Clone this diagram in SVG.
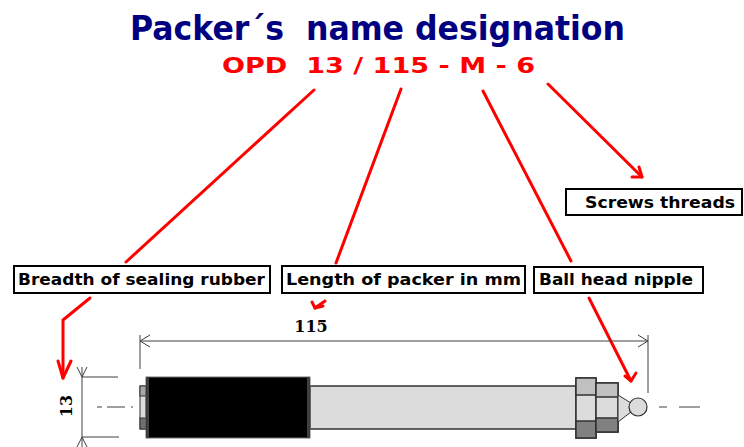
<svg xmlns="http://www.w3.org/2000/svg" width="744" height="447" viewBox="0 0 744 447">
<style>
.lbl{fill:#fff;stroke:#000;stroke-width:2}
.lt{font-family:"DejaVu Sans",Verdana,sans-serif;font-weight:bold;font-size:16px;fill:#000}
.red{stroke:#ff0000;stroke-width:3;fill:none;stroke-linecap:round;stroke-linejoin:round}
.dim{stroke:#404040;stroke-width:1;fill:none}
.part{stroke:#303030;stroke-width:1.5}
.dt{font-family:"DejaVu Serif","Liberation Serif",serif;font-weight:bold;font-size:16px;fill:#000}
</style>
<rect width="744" height="447" fill="#fff"/>
<g id="title">
<text x="130" y="40" textLength="495" lengthAdjust="spacingAndGlyphs" font-family="DejaVu Sans,Verdana,sans-serif" font-weight="bold" font-size="34" fill="#000080" xml:space="preserve">Packer´s  name designation</text>
<text x="222" y="73" textLength="313" lengthAdjust="spacingAndGlyphs" font-family="DejaVu Sans,Verdana,sans-serif" font-weight="bold" font-size="22" fill="#ff0000" xml:space="preserve">OPD  13 / 115 - M - 6</text>
</g>
<g id="label-breadth">
<rect class="lbl" x="14" y="266" width="256" height="27"/>
<text class="lt" x="18" y="285" textLength="247" lengthAdjust="spacingAndGlyphs">Breadth of sealing rubber</text>
</g>
<g id="label-length">
<rect class="lbl" x="282" y="266" width="243" height="27"/>
<text class="lt" x="286" y="285" textLength="235" lengthAdjust="spacingAndGlyphs">Length of packer in mm</text>
</g>
<g id="label-ball">
<rect class="lbl" x="534" y="267" width="169" height="26"/>
<text class="lt" x="539" y="285" textLength="154" lengthAdjust="spacingAndGlyphs">Ball head nipple</text>
</g>
<g id="label-screws">
<rect class="lbl" x="566" y="189" width="176" height="26"/>
<text class="lt" x="585" y="208" textLength="150" lengthAdjust="spacingAndGlyphs">Screws threads</text>
</g>
<g id="connectors">
<line class="red" x1="314" y1="90" x2="126" y2="262"/>
<line class="red" x1="401" y1="89" x2="336" y2="263"/>
<line class="red" x1="483" y1="91" x2="571" y2="261"/>
<line class="red" x1="548" y1="84" x2="642" y2="177"/>
<polyline class="red" points="639,167 642,177 632,177"/>
<polyline class="red" points="90,298 63,320 63,378"/>
<polyline class="red" points="58,361 63,378 71,361"/>
<line class="red" x1="325" y1="301" x2="315" y2="308"/>
<polyline class="red" points="312,302 315,308 323,306"/>
<line class="red" x1="589" y1="298" x2="631" y2="381"/>
<polyline class="red" points="625,376 631,381 636,373"/>
</g>
<g id="dimensions">
<line class="dim" x1="140" y1="341" x2="648" y2="341"/>
<line class="dim" x1="140" y1="335" x2="140" y2="369"/>
<line class="dim" x1="648" y1="335" x2="648" y2="393"/>
<polyline class="dim" points="150,335 140,341 150,347"/>
<polyline class="dim" points="638,335 648,341 638,347"/>
<text class="dt" x="311" y="332" text-anchor="middle">115</text>
<line class="dim" x1="82" y1="367" x2="82" y2="447"/>
<line class="dim" x1="82" y1="377" x2="118" y2="377"/>
<line class="dim" x1="82" y1="437" x2="119" y2="437"/>
<polyline class="dim" points="77,367 82,377 87,367"/>
<polyline class="dim" points="77,447 82,437 87,447"/>
<text class="dt" transform="translate(72,406) rotate(-90)" text-anchor="middle">13</text>
<path class="dim" d="M97 407H102M107 407H125M131 407H133"/>
<path class="dim" d="M659 407H667M679 407H700" stroke-width="1.3"/>
</g>
<g id="packer">
<rect x="140" y="386" width="6" height="43" fill="#dcdcdc" stroke="#303030"/>
<rect x="140" y="386" width="6" height="10" fill="#a8a8a8" stroke="#303030"/>
<rect x="140" y="418" width="6" height="11" fill="#707070" stroke="#303030"/>
<rect x="310" y="386" width="266" height="43" fill="#dcdcdc" class="part"/>
<rect x="146" y="377" width="164" height="61" fill="#000" stroke="#707070" stroke-width="1"/>
<line x1="148" y1="378" x2="148" y2="437" stroke="#808080" stroke-width="1"/>
<line x1="308" y1="378" x2="308" y2="437" stroke="#808080" stroke-width="1"/>
<rect x="576" y="378" width="20" height="60" fill="#dcdcdc" class="part"/>
<rect x="576" y="378" width="20" height="17" fill="#c0c0c0" class="part"/>
<rect x="576" y="421" width="20" height="17" fill="#808080" class="part"/>
<rect x="596" y="383" width="22" height="49" fill="#dcdcdc" class="part"/>
<rect x="596" y="383" width="22" height="14" fill="#c0c0c0" class="part"/>
<rect x="596" y="418" width="22" height="14" fill="#808080" class="part"/>
<polygon points="618,395 631,403 631,412 618,422" fill="#dcdcdc" stroke="#303030" stroke-width="1"/>
<circle cx="638" cy="407" r="9" fill="#dcdcdc" stroke="#303030" stroke-width="1.2"/>
</g>
</svg>
